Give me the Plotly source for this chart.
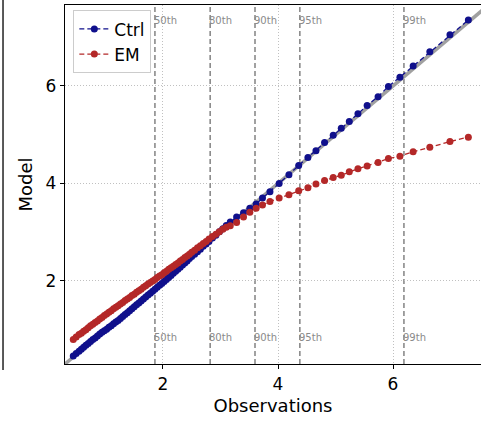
import plotly.graph_objects as go

# Observation quantiles (shared by both series)
obs = [0.44, 0.49, 0.54, 0.58, 0.62, 0.66, 0.70, 0.74, 0.78, 0.82,
       0.86, 0.90, 0.94, 0.98, 1.02, 1.06, 1.10, 1.14, 1.18, 1.22,
       1.26, 1.30, 1.34, 1.38, 1.42, 1.46, 1.50, 1.54, 1.58, 1.62,
       1.66, 1.70, 1.74, 1.78, 1.82, 1.86, 1.90, 1.94, 1.98, 2.02,
       2.06, 2.10, 2.14, 2.18, 2.22, 2.26, 2.30, 2.34, 2.38, 2.42,
       2.46, 2.50, 2.55, 2.60, 2.65, 2.70, 2.75, 2.80, 2.86, 2.92,
       2.98, 3.04, 3.10,
       3.17, 3.28, 3.40, 3.51, 3.62, 3.73, 3.86, 4.02, 4.19, 4.36,
       4.52, 4.66, 4.81, 4.96, 5.10, 5.24, 5.39, 5.55, 5.74, 5.92,
       6.12, 6.35, 6.64, 6.99, 7.31]

ctrl = [0.46, 0.51, 0.56, 0.60, 0.64, 0.68, 0.72, 0.76, 0.80, 0.83,
        0.87, 0.91, 0.95, 0.98, 1.01, 1.05, 1.08, 1.12, 1.16, 1.19,
        1.23, 1.27, 1.31, 1.35, 1.39, 1.43, 1.47, 1.51, 1.55, 1.59,
        1.63, 1.67, 1.71, 1.75, 1.79, 1.83, 1.87, 1.91, 1.95, 1.99,
        2.03, 2.07, 2.11, 2.16, 2.20, 2.24, 2.28, 2.33, 2.37, 2.41,
        2.46, 2.50, 2.55, 2.60, 2.65, 2.71, 2.76, 2.81, 2.88, 2.94,
        3.01, 3.07, 3.14,
        3.21, 3.31, 3.40, 3.49, 3.58, 3.70, 3.83, 4.00, 4.18, 4.37,
        4.53, 4.67, 4.84, 4.99, 5.13, 5.27, 5.43, 5.60, 5.78, 5.99,
        6.18, 6.41, 6.70, 7.05, 7.35]

em = [0.80, 0.85, 0.90, 0.93, 0.97, 1.00, 1.04, 1.08, 1.11, 1.15,
      1.18, 1.22, 1.25, 1.29, 1.32, 1.36, 1.39, 1.43, 1.46, 1.49,
      1.53, 1.56, 1.60, 1.63, 1.66, 1.70, 1.73, 1.77, 1.80, 1.83,
      1.87, 1.90, 1.94, 1.97, 2.00, 2.03, 2.07, 2.10, 2.13, 2.17,
      2.20, 2.24, 2.27, 2.30, 2.34, 2.37, 2.41, 2.44, 2.48, 2.51,
      2.55, 2.59, 2.63, 2.68, 2.72, 2.77, 2.81, 2.86, 2.91, 2.96,
      3.01, 3.06, 3.10,
      3.13, 3.20, 3.31, 3.41, 3.49, 3.56, 3.63, 3.70, 3.77, 3.85,
      3.91, 3.99, 4.06, 4.12, 4.17, 4.24, 4.30, 4.36, 4.43, 4.51,
      4.56, 4.65, 4.74, 4.86, 4.95]

pct_labels = ["50th", "80th", "90th", "95th", "99th"]
pct_vals = [1.86, 2.82, 3.60, 4.38, 6.19]

diag = [0.0, 8.0]
tick_vals = [2, 4, 6]

FONT = "DejaVu Sans"

fig = go.Figure()

fig.add_trace(go.Scatter(x=diag, y=diag, mode="lines",
                         line=dict(color="#a0a0a0", width=3.5),
                         showlegend=False, hoverinfo="skip"))

fig.add_trace(go.Scatter(x=obs, y=ctrl, mode="lines+markers", name="Ctrl",
                         line=dict(color="#10108c", width=1.3, dash="5px,3px"),
                         marker=dict(color="#10108c", size=7)))
fig.add_trace(go.Scatter(x=obs, y=em, mode="lines+markers", name="EM",
                         line=dict(color="#b42828", width=1.3, dash="5px,3px"),
                         marker=dict(color="#b42828", size=7)))

for lab, v in zip(pct_labels, pct_vals):
    fig.add_shape(type="line", xref="x", yref="paper", x0=v, x1=v, y0=0, y1=1,
                  line=dict(color="#7a7a7a", width=1.4, dash="5px,3px"), layer="below")
    for yy in (0.958, 0.075):
        fig.add_annotation(x=v, y=yy, xref="x", yref="paper", text=lab,
                           showarrow=False, xanchor="left", yanchor="middle",
                           xshift=-3,
                           font=dict(family=FONT, size=10, color="#8a8a8a"))

# fragment of neighbouring panel at left edge
fig.add_shape(type="line", xref="paper", yref="paper",
              x0=-0.149, x1=-0.149, y0=-0.017, y1=1.02,
              line=dict(color="black", width=1.3))

fig.update_layout(
    width=481, height=424,
    margin=dict(l=65, r=0, t=5, b=60),
    paper_bgcolor="white", plot_bgcolor="white",
    font=dict(family=FONT, size=17, color="black"),
    legend=dict(x=0.02, y=0.985, xanchor="left", yanchor="top",
                bgcolor="rgba(255,255,255,0.85)", bordercolor="#cccccc",
                borderwidth=1, font=dict(family=FONT, size=17)),
    xaxis=dict(range=[0.296, 7.53], tickvals=tick_vals, showgrid=True,
               gridcolor="#c0c0c0", griddash="1px,2px", gridwidth=1,
               showline=True, linecolor="black", linewidth=1.3, mirror=True,
               ticks="outside", ticklen=4, tickcolor="black", zeroline=False,
               title=dict(text="Observations", font=dict(size=18), standoff=6)),
    yaxis=dict(range=[0.297, 7.66], tickvals=tick_vals, showgrid=True,
               gridcolor="#c0c0c0", griddash="1px,2px", gridwidth=1,
               showline=True, linecolor="black", linewidth=1.3, mirror=False,
               ticks="outside", ticklen=4, tickcolor="black", zeroline=False,
               title=dict(text="Model", font=dict(size=18), standoff=8)),
)

fig.write_html("out.html")
